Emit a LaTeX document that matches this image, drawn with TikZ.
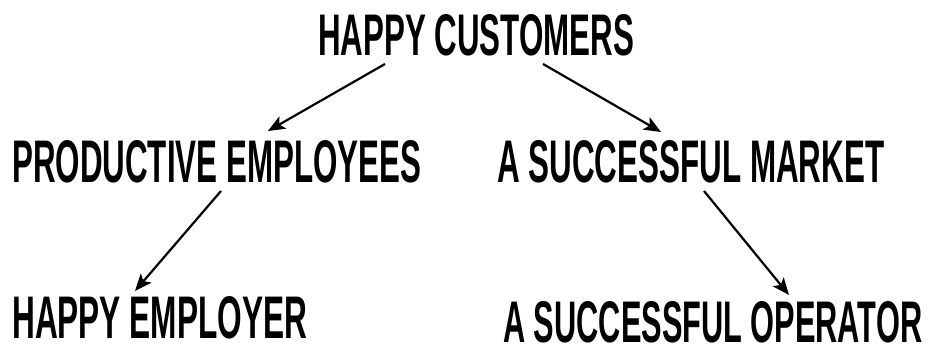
\documentclass[tikz,border=0pt]{standalone}
\usepackage{fontspec}
\setmainfont{Liberation Sans}
\usetikzlibrary{arrows.meta}
\begin{document}
\begin{tikzpicture}[x=1pt,y=-1pt,
  lbl/.style={anchor=north west,inner sep=0pt,font=\bfseries},
  arr/.style={line width=2.2pt,-{Stealth[length=17pt,width=14pt,inset=4pt]}}]
\useasboundingbox (0,0) rectangle (936,344);
\node[lbl] (hc) at (318,14) {\resizebox{316pt}{41pt}{HAPPY CUSTOMERS}};
\node[lbl] (pe) at (12,140) {\resizebox{409pt}{42pt}{PRODUCTIVE EMPLOYEES}};
\node[lbl] (sm) at (497,140) {\resizebox{387pt}{42pt}{A SUCCESSFUL MARKET}};
\node[lbl] (he) at (12,296) {\resizebox{295pt}{42pt}{HAPPY EMPLOYER}};
\node[lbl] (so) at (503,301) {\resizebox{419pt}{41pt}{A SUCCESSFUL OPERATOR}};
\coordinate (a1s) at ([xshift=67pt,yshift=-8pt]hc.south west);
\coordinate (a1e) at ([xshift=256pt,yshift=9pt]pe.north west);
\coordinate (a2s) at ([xshift=225pt,yshift=-8pt]hc.south west);
\coordinate (a2e) at ([xshift=164pt,yshift=8pt]sm.north west);
\coordinate (a3s) at ([xshift=209pt,yshift=-8pt]pe.south west);
\coordinate (a3e) at ([xshift=123pt,yshift=5pt]he.north west);
\coordinate (a4s) at ([xshift=207pt,yshift=-8pt]sm.south west);
\coordinate (a4e) at ([xshift=286pt,yshift=6pt]so.north west);
\draw[arr] (a1s) -- (a1e);
\draw[arr] (a2s) -- (a2e);
\draw[arr] (a3s) -- (a3e);
\draw[arr] (a4s) -- (a4e);
\end{tikzpicture}
\end{document}
